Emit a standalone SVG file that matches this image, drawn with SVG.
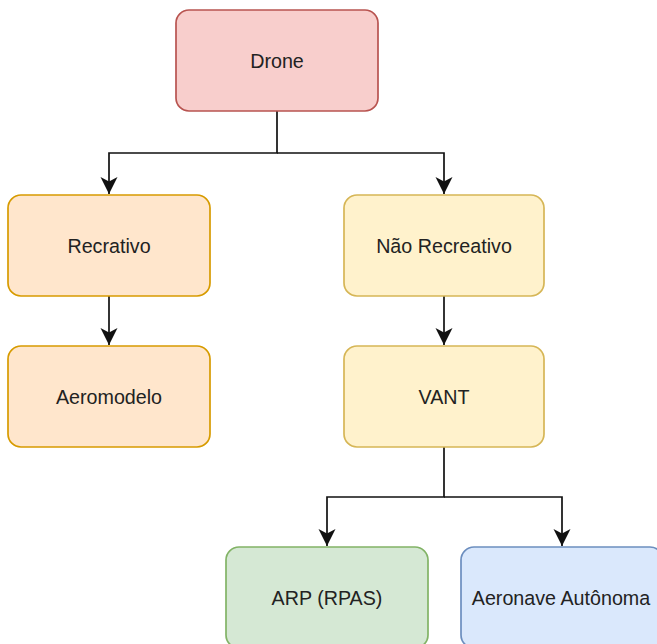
<svg xmlns="http://www.w3.org/2000/svg" width="657" height="644" viewBox="0 0 657 644">
<style>
.box{stroke-width:1.7}
.lbl{font-family:"Liberation Sans",Arial,sans-serif;font-size:19.7px;fill:#222;text-anchor:middle;dominant-baseline:central}
.edge{fill:none;stroke:#111;stroke-width:1.7}
</style>
<defs>
<marker id="arr" markerUnits="userSpaceOnUse" markerWidth="18" markerHeight="20" refX="17" refY="8.5" orient="auto">
<path d="M0,0 L17,8.5 L0,17 L4.5,8.5 Z" fill="#111"/>
</marker>
</defs>
<rect width="657" height="644" fill="#fff"/>
<g id="connectors">
<path class="edge" d="M277,111 V153 H109 V194" marker-end="url(#arr)"/>
<path class="edge" d="M277,153 H444 V194" marker-end="url(#arr)"/>
<path class="edge" d="M109,296 V345" marker-end="url(#arr)"/>
<path class="edge" d="M444,296 V345" marker-end="url(#arr)"/>
<path class="edge" d="M444,447 V497 H327 V546" marker-end="url(#arr)"/>
<path class="edge" d="M444,497 H562 V546" marker-end="url(#arr)"/>
</g>
<g id="drone">
<rect class="box" x="176" y="10" width="202" height="101" rx="13" fill="#f8cecc" stroke="#b85450"/>
<text class="lbl" x="277" y="61">Drone</text>
</g>
<g id="recrativo">
<rect class="box" x="8" y="195" width="202" height="101" rx="13" fill="#ffe6cc" stroke="#d79b00"/>
<text class="lbl" x="109" y="246">Recrativo</text>
</g>
<g id="nao-recreativo">
<rect class="box" x="344" y="195" width="200" height="101" rx="13" fill="#fff2cc" stroke="#d6b656"/>
<text class="lbl" x="444" y="246">Não Recreativo</text>
</g>
<g id="aeromodelo">
<rect class="box" x="8" y="346" width="202" height="101" rx="13" fill="#ffe6cc" stroke="#d79b00"/>
<text class="lbl" x="109" y="397">Aeromodelo</text>
</g>
<g id="vant">
<rect class="box" x="344" y="346" width="200" height="101" rx="13" fill="#fff2cc" stroke="#d6b656"/>
<text class="lbl" x="444" y="397">VANT</text>
</g>
<g id="arp">
<rect class="box" x="226" y="547" width="202" height="101" rx="13" fill="#d5e8d4" stroke="#82b366"/>
<text class="lbl" x="327" y="598">ARP (RPAS)</text>
</g>
<g id="aeronave-autonoma">
<rect class="box" x="461" y="547" width="202" height="101" rx="13" fill="#dae8fc" stroke="#6c8ebf"/>
<text class="lbl" x="561" y="598">Aeronave Autônoma</text>
</g>
</svg>
